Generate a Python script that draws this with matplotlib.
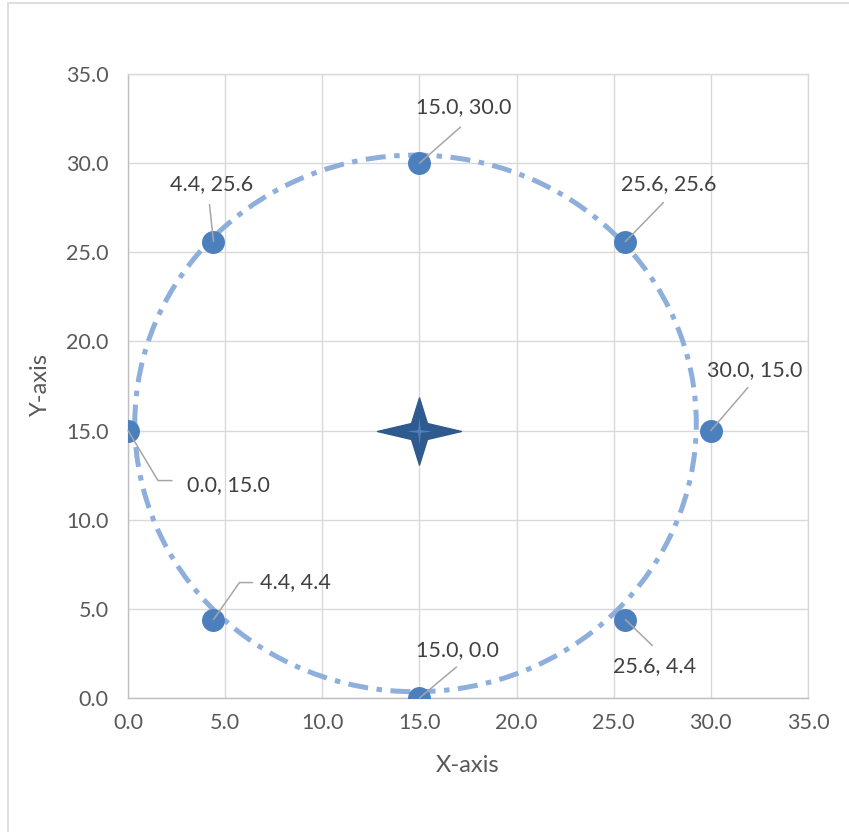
import numpy as np
import matplotlib
matplotlib.use("Agg")
import matplotlib.pyplot as plt
from matplotlib.path import Path
from matplotlib.patches import Ellipse, Rectangle

plt.rcParams['font.family'] = ['Lato', 'DejaVu Sans']

# 원 위의 8개 점
xs = [15.0, 25.6, 30.0, 25.6, 15.0, 4.4, 0.0, 4.4]
ys = [30.0, 25.6, 15.0, 4.4, 0.0, 4.4, 15.0, 25.6]
# 중심점
cx, cy = [15.0], [15.0]

# 데이터 레이블 위치 (점 기준 픽셀 오프셋)
label_off = [(44, 56), (43, 57), (44, 60), (29, -47), (38, 48), (82, 37), (100, -55), (-2, 57)]
# 지시선 끝점 (텍스트 쪽), 꺾이는 선은 각도 지정
leader_end = [(41, 36), (38, 39), (37, 43), (27, -26), (37, 31), (39, 37), (44, -50), (-4, 37)]
leader_bend = [None, None, None, None, None, 54.9, -59.0, None]

text_col = '#404040'
grid_col = '#D9D9D9'
dot_col = '#4C7FBD'

fig = plt.figure(figsize=(8.49, 8.32), dpi=100)
ax = fig.add_axes([128/849, 1 - 698/832, 680/849, 624/832])

ax.set_xlim(0, 35)
ax.set_ylim(0, 35)
ticks = np.arange(0, 35.1, 5)
ax.set_xticks(ticks)
ax.set_yticks(ticks)
ax.set_xticklabels([f'{t:.1f}' for t in ticks])
ax.set_yticklabels([f'{t:.1f}' for t in ticks])
ax.tick_params(length=0, labelsize=15.5, labelcolor='#595959')
ax.tick_params(axis='x', pad=11)
ax.tick_params(axis='y', pad=14)
ax.grid(True, color=grid_col, lw=1.0)
ax.set_axisbelow(True)
for s in ['top', 'right']:
    ax.spines[s].set_color(grid_col)
for s in ['left', 'bottom']:
    ax.spines[s].set_color('#BFBFBF')
for s in ax.spines.values():
    s.set_linewidth(1.0)

# 점선 원 (도형)
ring = Ellipse((14.8, 15.4), 28.9, 30.1, fill=False, ec='#8EAEDB', lw=3.6,
               ls=(0, (4, 1.7, 1.1, 1.7)), zorder=2)
ring.set_capstyle('butt')
ax.add_patch(ring)

ax.plot(xs, ys, 'o', ms=15.5, color=dot_col, mec=dot_col, zorder=3)

# 네 꼭짓점 별 모양 마커
def star(w, h, k):
    v = [(w, 0), (k, k), (0, h), (-k, k), (-w, 0), (-k, -k), (0, -h), (k, -k), (w, 0)]
    return Path(v, [Path.MOVETO] + [Path.LINETO] * 7 + [Path.CLOSEPOLY])

ax.plot(cx, cy, marker=star(1.0, 0.8, 0.19), ms=60.5, color='#2F5A8F', mec='#2F5A8F', ls='none', zorder=4)
ax.plot(cx, cy, marker=star(0.95, 1.0, 0.1), ms=19.5, color='#4E80BE', mec='#4E80BE', mew=0, ls='none', zorder=5)

# 데이터 레이블과 지시선
for x, y, off, end, bend in zip(xs, ys, label_off, leader_end, leader_bend):
    cs = 'arc3' if bend is None else f'angle,angleA=0,angleB={bend},rad=0'
    ax.annotate('', xy=(x, y), xytext=end, textcoords='offset pixels',
                arrowprops=dict(arrowstyle='-', color='#A6A6A6', lw=1.1,
                                shrinkA=0, shrinkB=0, connectionstyle=cs),
                annotation_clip=False, zorder=4)
    ax.annotate(f'{x:.1f}, {y:.1f}', xy=(x, y), xytext=off, textcoords='offset pixels',
                ha='center', va='center', fontsize=15.5, color=text_col,
                annotation_clip=False, zorder=5)

ax.set_xlabel('X-axis', fontsize=17, color='#595959')
ax.set_ylabel('Y-axis', fontsize=17, color='#595959')
ax.xaxis.set_label_coords(0.5, (698 - 766) / 624)
ax.yaxis.set_label_coords((40 - 128) / 680, (698 - 385) / 624)
ax.xaxis.label.set_va('center')
ax.yaxis.label.set_va('center')

# 차트 영역 테두리
fig.patches.append(Rectangle((8/849, -0.1), 1.2, 1 - 3/832 + 0.1, transform=fig.transFigure,
                             fill=False, ec=grid_col, lw=1.2))

fig.savefig('out.png', dpi=100)
